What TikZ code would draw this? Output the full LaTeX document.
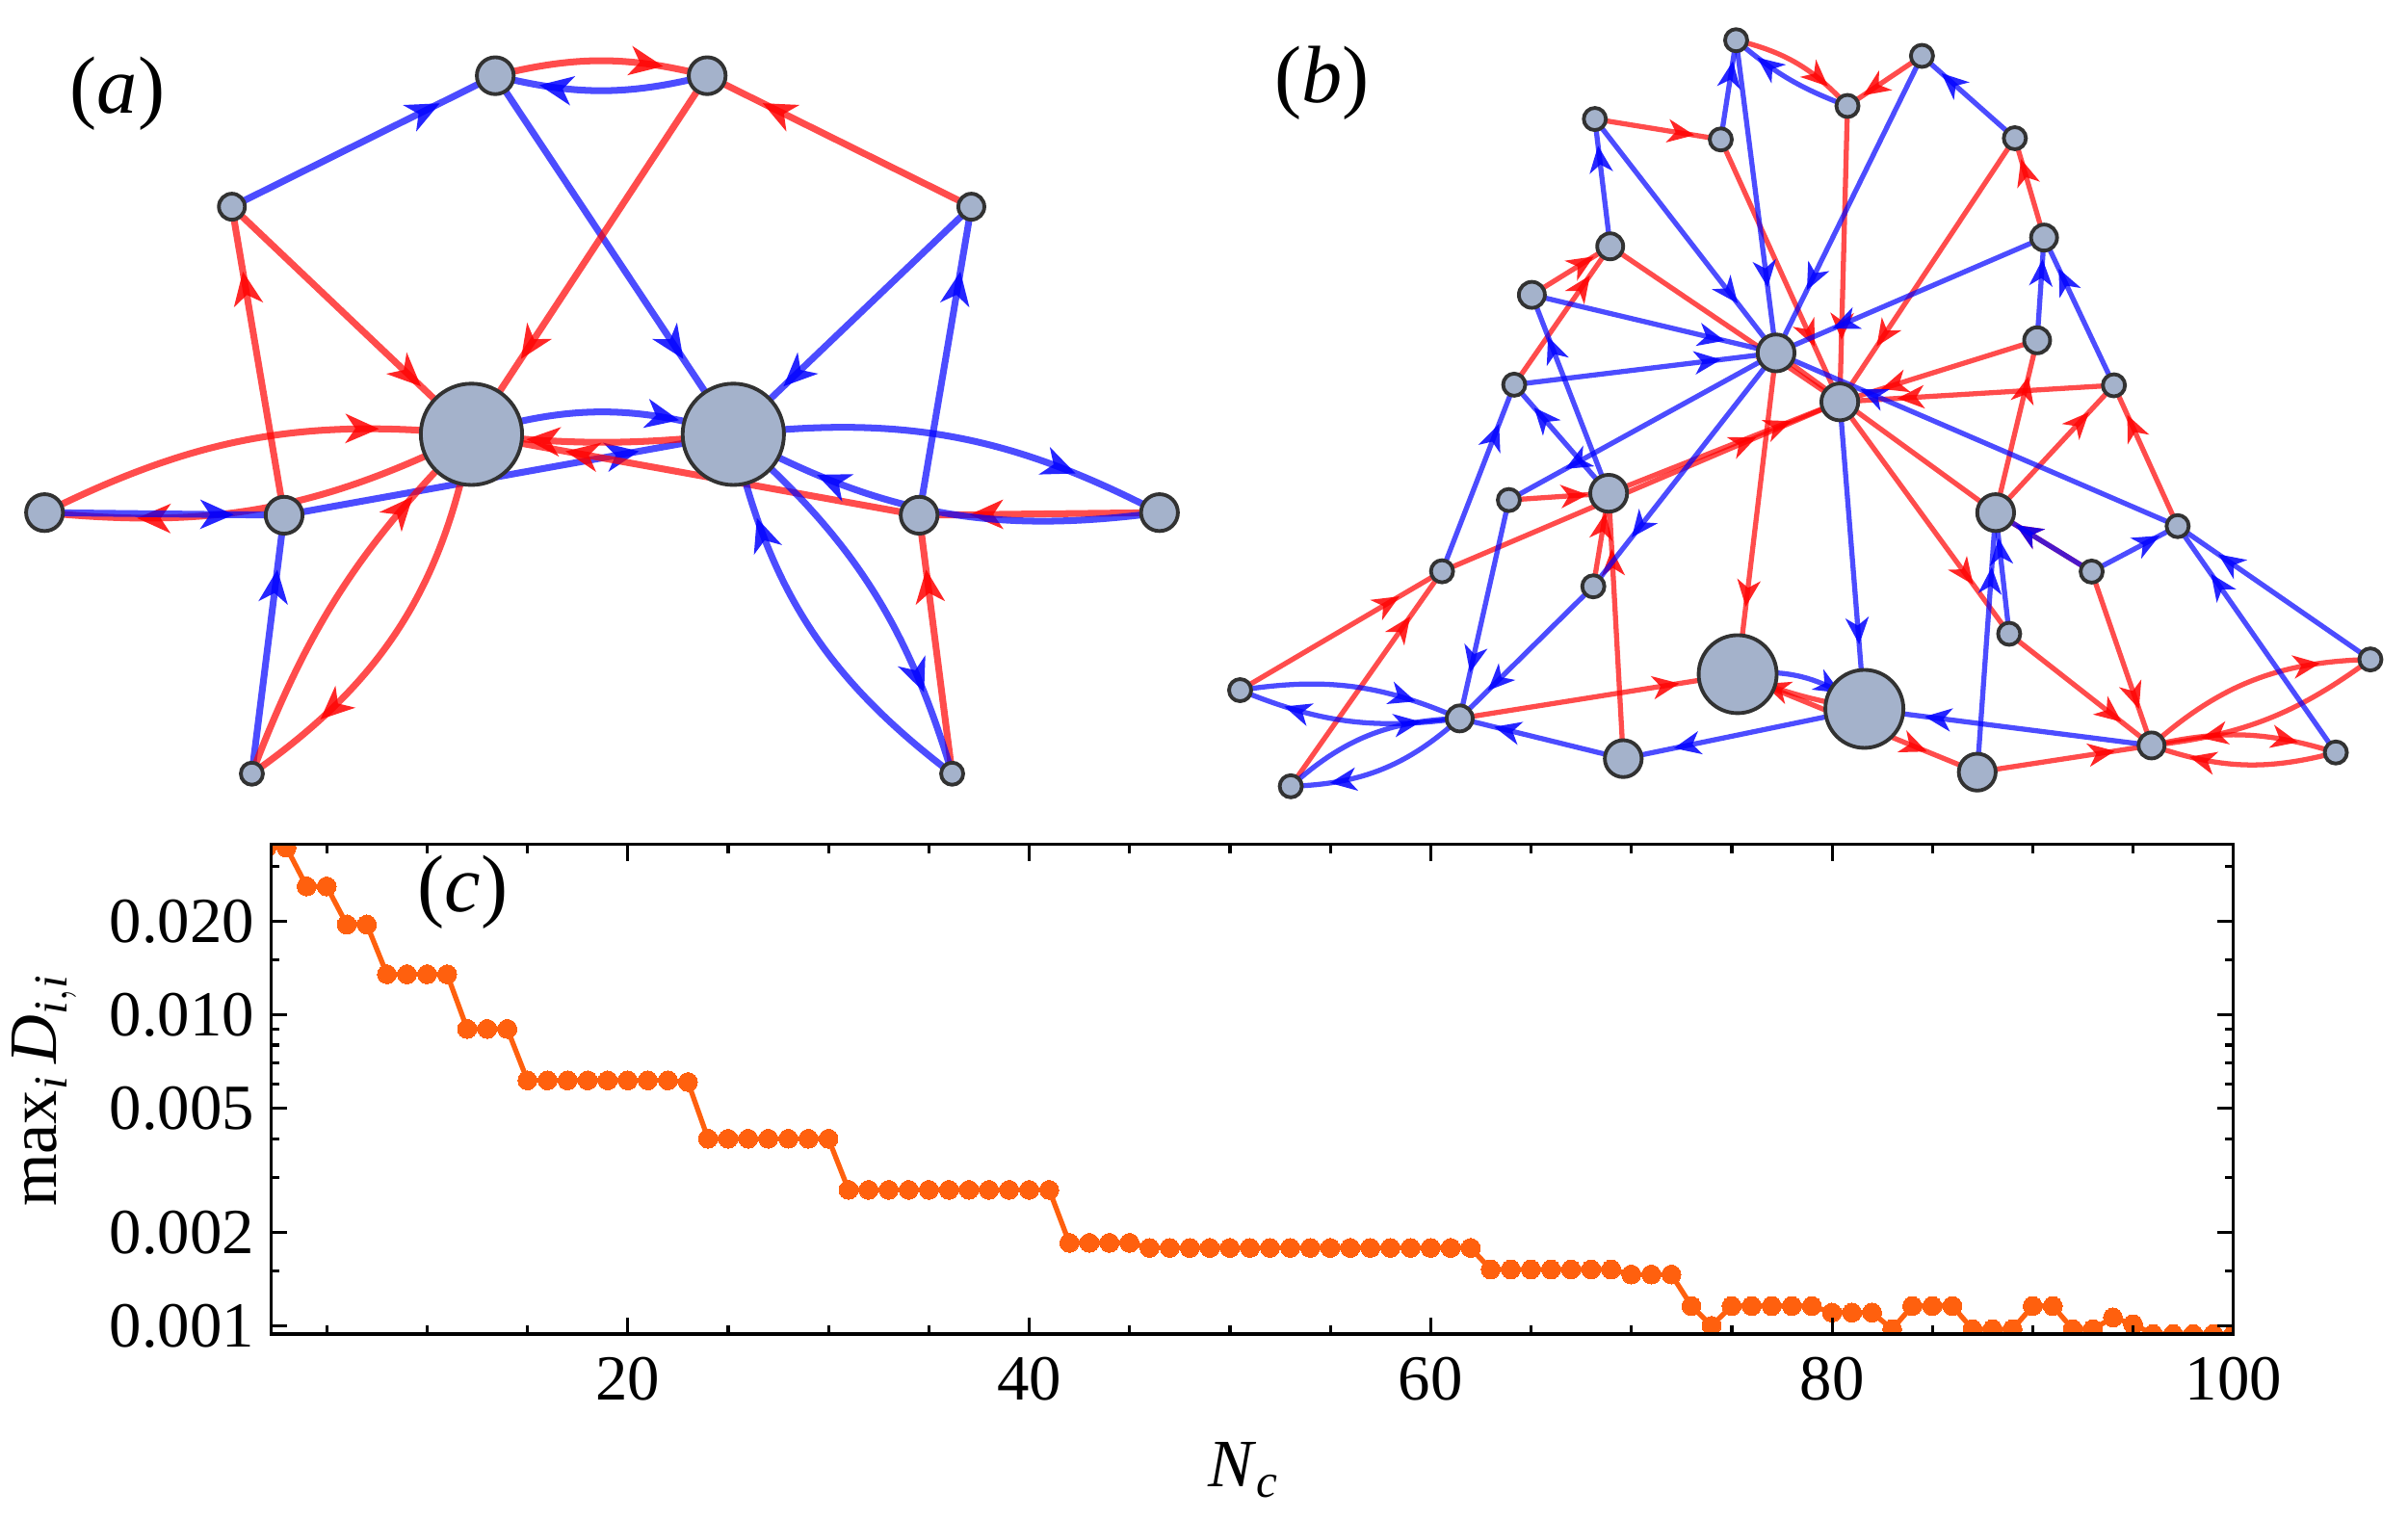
\documentclass[tikz,border=0pt]{standalone}
\usepackage{amsmath}
\usepackage{fontspec}
\setmainfont{Liberation Serif}
\usepackage{tikz}
\usetikzlibrary{decorations.markings}

\definecolor{vfill}{RGB}{164,178,203}
\definecolor{vline}{RGB}{50,50,50}
\definecolor{curve}{RGB}{255,96,14}

\pgfdeclarelayer{edges}
\pgfsetlayers{edges,main}

\newcommand{\bighead}[1]{\fill[#1, fill opacity=0.85] (0pt,0pt) -- (-10pt,4.4pt) -- (-7pt,0pt) -- (-10pt,-4.4pt) -- cycle;}
\newcommand{\smallhead}[1]{\fill[#1, fill opacity=0.85] (0pt,0pt) -- (-8pt,3.5pt) -- (-5.6pt,0pt) -- (-8pt,-3.5pt) -- cycle;}

\tikzset{
  vtx/.style={circle, draw=vline, line width=1.1pt, fill=vfill, inner sep=0pt},
  vtiny/.style={vtx, minimum size=0.23cm},
  vsmall/.style={vtx, minimum size=0.27cm},
  vmid/.style={vtx, minimum size=0.383cm},
  vbig/.style={vtx, minimum size=0.81cm},
  vhuge/.style={vtx, minimum size=1.052cm},
  ared/.style={draw=red, draw opacity=0.7, line width=2pt,
    postaction={decorate, decoration={markings, mark=at position #1 with {\bighead{red}}}}},
  ared/.default=0.79,
  ablue/.style={draw=blue, draw opacity=0.7, line width=2pt,
    postaction={decorate, decoration={markings, mark=at position #1 with {\bighead{blue}}}}},
  ablue/.default=0.79,
  bred/.style={draw=red, draw opacity=0.7, line width=1.5pt,
    postaction={decorate, decoration={markings, mark=at position #1 with {\smallhead{red}}}}},
  bred/.default=0.79,
  bblue/.style={draw=blue, draw opacity=0.7, line width=1.5pt,
    postaction={decorate, decoration={markings, mark=at position #1 with {\smallhead{blue}}}}},
  bblue/.default=0.79,
  panel/.style={font=\fontsize{24}{28}\selectfont, inner sep=0pt},
  tlab/.style={font=\fontsize{19}{23}\selectfont, inner sep=0pt},
  alab/.style={font=\fontsize{20}{24}\selectfont, inner sep=0pt},
  frame/.style={draw=black, line width=0.9pt},
  axtick/.style={draw=black, line width=0.9pt},
  dline/.style={draw=curve, line width=1.5pt, mark=*, mark size=2.8pt,
    mark options={fill=curve, draw=curve, line width=0pt}}
}

\begin{document}
\begin{tikzpicture}[x=0.0159439cm, y=-0.0159439cm]
\useasboundingbox (0,0) rectangle (1568,988);

% (a)
\node[panel] (labela) at (76.5,61) {(\textit{a})};
\node[vmid] (a1) at (322.5,49.3) {};
\node[vmid] (a2) at (460.5,49.3) {};
\node[vsmall] (a3) at (151,134.6) {};
\node[vsmall] (a4) at (632.5,134.6) {};
\node[vhuge] (aL) at (307,282.8) {};
\node[vhuge] (aR) at (477.5,282.8) {};
\node[vmid] (a5) at (29,333.8) {};
\node[vmid] (a6) at (185,335.5) {};
\node[vmid] (a7) at (598.5,335.5) {};
\node[vmid] (a8) at (755,333.8) {};
\node[vtiny] (a9) at (164,503.8) {};
\node[vtiny] (a10) at (620,503.8) {};

\begin{pgfonlayer}{edges}
\draw[ared] (a1.center) to[bend left=14] (a2.center);
\draw[ablue] (a2.center) to[bend left=14] (a1.center);
\draw[ablue] (a3.center) -- (a1.center);
\draw[ablue] (a1.center) -- (aR.center);
\draw[ared] (a2.center) -- (aL.center);
\draw[ared] (a4.center) -- (a2.center);
\draw[ablue] (a4.center) -- (aR.center);
\draw[ared] (a3.center) -- (aL.center);
\draw[ared] (a6.center) -- (a3.center);
\draw[ablue] (a9.center) -- (a6.center);
\draw[ablue] (a7.center) -- (a4.center);
\draw[ared] (a10.center) -- (a7.center);
\draw[ared] (a5.center) to[bend left=16] (aL.center);
\draw[ared] (aL.center) to[bend left=16] (a5.center);
\draw[ablue] (a5.center) -- (a6.center);
\draw[ablue] (a6.center) -- (aR.center);
\draw[ablue] (aL.center) to[bend left=17] (aR.center);
\draw[ared] (aR.center) to[bend left=6] (aL.center);
\draw[ared] (a7.center) -- (aL.center);
\draw[ared] (a8.center) -- (a7.center);
\draw[ablue] (aR.center) to[bend left=17] (a8.center);
\draw[ablue] (a8.center) to[bend left=18] (aR.center);
\draw[ablue] (aR.center) to[bend left=16] (a10.center);
\draw[ablue] (a10.center) to[bend left=20] (aR.center);
\draw[ared] (a9.center) to[bend left=12] (aL.center);
\draw[ared] (aL.center) to[bend left=22] (a9.center);
\end{pgfonlayer}

% (b)
\node[panel] (labelb) at (861,54) {(\textit{b})};
\node[vtiny] (b1) at (1130.5,26.2) {};
\node[vtiny] (b2) at (1203,69) {};
\node[vtiny] (b3) at (1251.5,36.4) {};
\node[vtiny] (b4) at (1038.5,77.5) {};
\node[vtiny] (b5) at (1120.5,90.8) {};
\node[vtiny] (b6) at (1312,90) {};
\node[vsmall] (b7) at (1048.5,160.4) {};
\node[vsmall] (b8) at (1331,154.7) {};
\node[vsmall] (b9) at (997.5,192) {};
\node[vsmall] (b10) at (1326.5,221.6) {};
\node[vmid] (b11) at (1156.5,229.8) {};
\node[vtiny] (b12) at (986,250.5) {};
\node[vmid] (b13) at (1198,261.7) {};
\node[vtiny] (b14) at (1376.5,250.9) {};
\node[vtiny] (b15) at (982.5,325.6) {};
\node[vmid] (b16) at (1047.5,321.2) {};
\node[vmid] (b17) at (1299.5,333.8) {};
\node[vtiny] (b18) at (1418,342.6) {};
\node[vtiny] (b19) at (939,372) {};
\node[vtiny] (b20) at (1037.5,381.8) {};
\node[vtiny] (b21) at (1362,372.2) {};
\node[vtiny] (b22) at (1308.3,412.7) {};
\node[vbig] (b23) at (1131.5,439) {};
\node[vbig] (b24) at (1214,461.6) {};
\node[vtiny] (b25) at (1543.5,429.4) {};
\node[vtiny] (b26) at (807.5,449.4) {};
\node[vsmall] (b27) at (950.5,467.8) {};
\node[vmid] (b28) at (1057,494) {};
\node[vmid] (b29) at (1287.5,502.8) {};
\node[vsmall] (b30) at (1401,485.4) {};
\node[vtiny] (b31) at (1521,490) {};
\node[vtiny] (b32) at (840.5,512) {};

\begin{pgfonlayer}{edges}
\draw[bred] (b1.center) to[bend left=17] (b2.center);
\draw[bred] (b3.center) -- (b2.center);
\draw[bred] (b4.center) -- (b5.center);
\draw[bred] (b5.center) -- (b13.center);
\draw[bred] (b2.center) -- (b13.center);
\draw[bred] (b6.center) -- (b13.center);
\draw[bred] (b8.center) -- (b6.center);
\draw[bred] (b9.center) -- (b7.center);
\draw[bred] (b12.center) -- (b7.center);
\draw[bred=0.76] (b7.center) -- (b13.center);
\draw[bred] (b10.center) -- (b13.center);
\draw[bred] (b14.center) -- (b13.center);
\draw[bred] (b17.center) -- (b10.center);
\draw[bred] (b17.center) -- (b14.center);
\draw[bred] (b18.center) -- (b14.center);
\draw[bred] (b13.center) -- (b22.center);
\draw[bred] (b22.center) -- (b30.center);
\draw[bred] (b21.center) -- (b30.center);
\draw[bred=0.755] (b17.center) -- (b11.center);
\draw[bred] (b21.center) -- (b17.center);
\draw[bred] (b11.center) -- (b23.center);
\draw[bred] (b15.center) -- (b16.center);
\draw[bred] (b16.center) -- (b13.center);
\draw[bred] (b19.center) -- (b13.center);
\draw[bred] (b20.center) -- (b16.center);
\draw[bred] (b28.center) -- (b16.center);
\draw[bred] (b26.center) -- (b19.center);
\draw[bred] (b32.center) -- (b19.center);
\draw[bred] (b27.center) -- (b23.center);
\draw[bred] (b24.center) to[bend left=6] (b23.center);
\draw[bred] (b23.center) -- (b29.center);
\draw[bred] (b29.center) -- (b30.center);
\draw[bred] (b30.center) to[bend left=20] (b25.center);
\draw[bred] (b25.center) to[bend left=15] (b30.center);
\draw[bred] (b30.center) to[bend left=15] (b31.center);
\draw[bred] (b31.center) to[bend left=17] (b30.center);

\draw[bblue] (b2.center) to[bend left=10] (b1.center);
\draw[bblue] (b5.center) -- (b1.center);
\draw[bblue] (b6.center) -- (b3.center);
\draw[bblue] (b1.center) -- (b11.center);
\draw[bblue] (b3.center) -- (b11.center);
\draw[bblue] (b4.center) -- (b11.center);
\draw[bblue] (b7.center) -- (b4.center);
\draw[bblue] (b8.center) -- (b11.center);
\draw[bblue] (b9.center) -- (b11.center);
\draw[bblue] (b12.center) -- (b11.center);
\draw[bblue] (b10.center) -- (b8.center);
\draw[bblue] (b14.center) -- (b8.center);
\draw[bblue] (b18.center) -- (b11.center);
\draw[bblue] (b16.center) -- (b9.center);
\draw[bblue] (b16.center) -- (b12.center);
\draw[bblue] (b19.center) -- (b12.center);
\draw[bblue] (b11.center) -- (b15.center);
\draw[bblue] (b15.center) -- (b27.center);
\draw[bblue] (b11.center) -- (b20.center);
\draw[bblue] (b20.center) -- (b27.center);
\draw[bblue] (b13.center) -- (b24.center);
\draw[bblue] (b22.center) -- (b17.center);
\draw[bblue] (b29.center) -- (b17.center);
\draw[bblue] (b21.center) -- (b17.center);
\draw[bblue] (b21.center) -- (b18.center);
\draw[bblue] (b25.center) -- (b18.center);
\draw[bblue] (b31.center) -- (b18.center);
\draw[bblue] (b26.center) to[bend left=16] (b27.center);
\draw[bblue] (b27.center) to[bend left=15] (b26.center);
\draw[bblue] (b32.center) to[bend left=20] (b27.center);
\draw[bblue] (b27.center) to[bend left=20] (b32.center);
\draw[bblue] (b28.center) -- (b27.center);
\draw[bblue] (b24.center) -- (b28.center);
\draw[bblue] (b23.center) to[bend left=22] (b24.center);
\draw[bblue] (b30.center) -- (b24.center);
\end{pgfonlayer}

% (c)
\begin{scope}[shift={(147.4,0)}, x=0.208387cm]
\clip (2.22,549.7) rectangle (100,868.7);
\draw[dline] plot coordinates {(2,552) (3,552) (4,577.2) (5,577.2) (6,602) (7,602)
 (8,634.4) (9,634.4) (10,634.4) (11,634.4) (12,670) (13,670) (14,670)
 (15,703.5) (16,703.5) (17,703.5) (18,703.5) (19,703.5) (20,703.5) (21,703.5) (22,703.5) (23,704.6)
 (24,741.5) (25,741.5) (26,741.5) (27,741.5) (28,741.5) (29,741.5) (30,741.5)
 (31,774.8) (32,774.8) (33,774.8) (34,774.8) (35,774.8) (36,774.8) (37,774.8) (38,774.8) (39,774.8) (40,774.8) (41,774.8)
 (42,809.3) (43,809.3) (44,809.3) (45,809.3)
 (46,812.6) (47,812.6) (48,812.6) (49,812.6) (50,812.6) (51,812.6) (52,812.6) (53,812.6) (54,812.6)
 (55,812.6) (56,812.6) (57,812.6) (58,812.6) (59,812.6) (60,812.6) (61,812.6) (62,812.6)
 (63,826.6) (64,826.6) (65,826.6) (66,826.6) (67,826.6) (68,826.6) (69,826.6) (70,829.9) (71,829.9) (72,829.9)
 (73,850.4) (74,863.3) (75,850.4) (76,850.4) (77,850.4) (78,850.4) (79,850.4) (80,854.7) (81,854.7) (82,854.7)
 (83,865.5) (84,850.4) (85,850.4) (86,850.4) (87,865.5) (88,865.5) (89,865.5) (90,850.4) (91,850.4)
 (92,865.5) (93,865.5) (94,857.9) (95,862.3) (96,868.7) (97,868.7) (98,868.7) (99,868.7) (100,868.7)};
\end{scope}

\draw[frame] (176.4,549.7) rectangle (1454.4,868.7);
\draw[axtick] (212.75,549.7) -- ++(0,5.8) (212.75,868.7) -- ++(0,-5.8);
\draw[axtick] (278.1,549.7) -- ++(0,5.8) (278.1,868.7) -- ++(0,-5.8);
\draw[axtick] (343.45,549.7) -- ++(0,5.8) (343.45,868.7) -- ++(0,-5.8);
\draw[axtick] (408.8,549.7) -- ++(0,10.8) (408.8,868.7) -- ++(0,-10.8);
\draw[axtick] (474.15,549.7) -- ++(0,5.8) (474.15,868.7) -- ++(0,-5.8);
\draw[axtick] (539.5,549.7) -- ++(0,5.8) (539.5,868.7) -- ++(0,-5.8);
\draw[axtick] (604.85,549.7) -- ++(0,5.8) (604.85,868.7) -- ++(0,-5.8);
\draw[axtick] (670.2,549.7) -- ++(0,10.8) (670.2,868.7) -- ++(0,-10.8);
\draw[axtick] (735.55,549.7) -- ++(0,5.8) (735.55,868.7) -- ++(0,-5.8);
\draw[axtick] (800.9,549.7) -- ++(0,5.8) (800.9,868.7) -- ++(0,-5.8);
\draw[axtick] (866.25,549.7) -- ++(0,5.8) (866.25,868.7) -- ++(0,-5.8);
\draw[axtick] (931.6,549.7) -- ++(0,10.8) (931.6,868.7) -- ++(0,-10.8);
\draw[axtick] (996.95,549.7) -- ++(0,5.8) (996.95,868.7) -- ++(0,-5.8);
\draw[axtick] (1062.3,549.7) -- ++(0,5.8) (1062.3,868.7) -- ++(0,-5.8);
\draw[axtick] (1127.65,549.7) -- ++(0,5.8) (1127.65,868.7) -- ++(0,-5.8);
\draw[axtick] (1193,549.7) -- ++(0,10.8) (1193,868.7) -- ++(0,-10.8);
\draw[axtick] (1258.35,549.7) -- ++(0,5.8) (1258.35,868.7) -- ++(0,-5.8);
\draw[axtick] (1323.7,549.7) -- ++(0,5.8) (1323.7,868.7) -- ++(0,-5.8);
\draw[axtick] (1389.05,549.7) -- ++(0,5.8) (1389.05,868.7) -- ++(0,-5.8);
\draw[axtick] (176.4,564.2) -- ++(5.5,0) (1454.4,564.2) -- ++(-5.5,0);
\draw[axtick] (176.4,599.9) -- ++(10.4,0) (1454.4,599.9) -- ++(-10.4,0);
\draw[axtick] (176.4,625.2) -- ++(5.5,0) (1454.4,625.2) -- ++(-5.5,0);
\draw[axtick] (176.4,660.9) -- ++(10.4,0) (1454.4,660.9) -- ++(-10.4,0);
\draw[axtick] (176.4,670.1) -- ++(5.5,0) (1454.4,670.1) -- ++(-5.5,0);
\draw[axtick] (176.4,680.5) -- ++(5.5,0) (1454.4,680.5) -- ++(-5.5,0);
\draw[axtick] (176.4,692.2) -- ++(5.5,0) (1454.4,692.2) -- ++(-5.5,0);
\draw[axtick] (176.4,705.8) -- ++(5.5,0) (1454.4,705.8) -- ++(-5.5,0);
\draw[axtick] (176.4,721.8) -- ++(10.4,0) (1454.4,721.8) -- ++(-10.4,0);
\draw[axtick] (176.4,741.4) -- ++(5.5,0) (1454.4,741.4) -- ++(-5.5,0);
\draw[axtick] (176.4,766.7) -- ++(5.5,0) (1454.4,766.7) -- ++(-5.5,0);
\draw[axtick] (176.4,802.4) -- ++(10.4,0) (1454.4,802.4) -- ++(-10.4,0);
\draw[axtick] (176.4,827.7) -- ++(5.5,0) (1454.4,827.7) -- ++(-5.5,0);
\draw[axtick] (176.4,863.4) -- ++(10.4,0) (1454.4,863.4) -- ++(-10.4,0);

\node[tlab, anchor=east] (y020) at (166,599.9) {0.020};
\node[tlab, anchor=east] (y010) at (166,660.9) {0.010};
\node[tlab, anchor=east] (y005) at (166,721.8) {0.005};
\node[tlab, anchor=east] (y002) at (166,802.4) {0.002};
\node[tlab, anchor=east] (y001) at (166,863.4) {0.001};
\node[tlab, anchor=base] (x20) at (408.8,911.5) {20};
\node[tlab, anchor=base] (x40) at (670.2,911.5) {40};
\node[tlab, anchor=base] (x60) at (931.6,911.5) {60};
\node[tlab, anchor=base] (x80) at (1193,911.5) {80};
\node[tlab, anchor=base] (x100) at (1454.4,911.5) {100};
\node[alab, anchor=base] (xlabel) at (810,968) {\textit{N}$_{\textit{c}}$};
\node[alab, anchor=base, rotate=90] (ylabel) at (37,710) {max$_{\textit{i}}$\,\textit{D}$_{\textit{i},\textit{i}}$};
\node[panel] (labelc) at (301.4,581) {(\textit{c})};
\end{tikzpicture}
\end{document}
